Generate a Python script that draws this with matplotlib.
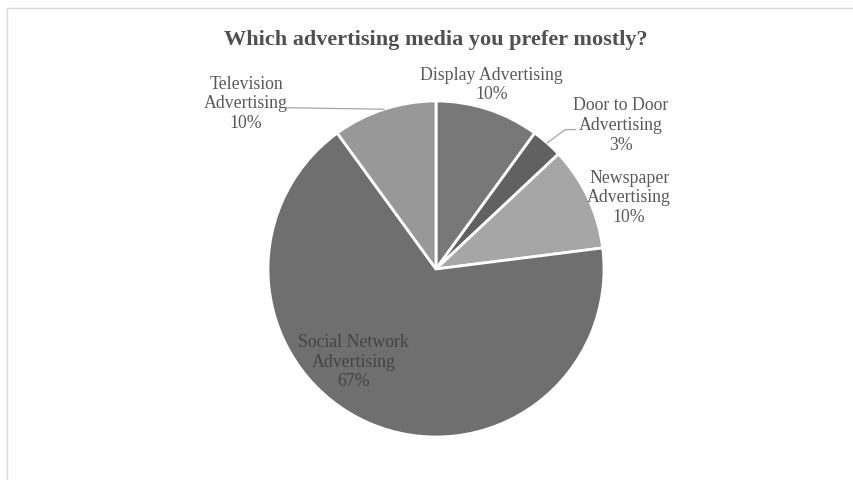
import math
import matplotlib
matplotlib.use("Agg")
from matplotlib import pyplot as plt
from matplotlib.patches import Rectangle

# survey answers (share of respondents, %)
media = ['Display Advertising', 'Door to Door\nAdvertising', 'Newspaper\nAdvertising',
         'Social Network\nAdvertising', 'Television\nAdvertising']
share = [10, 3, 10, 67, 10]
shades = ['#787878', '#616161', '#a6a6a6', '#6f6f6f', '#989898']

# where each label block sits, in pie-radius units
label_xy = [(0.33, 1.10), (1.10, 0.86), (1.15, 0.43), (-0.49, -0.55), (-1.13, 0.99)]
# leader line path from the label side (elbow points), None = no line
leader_from = [None, [(0.83, 0.83), (0.77, 0.83)], None, None, [(-0.89, 0.96)]]

W, H = 854, 481
fig = plt.figure(figsize=(W / 100, H / 100), dpi=100)
plt.rcParams['font.family'] = ['Liberation Serif', 'DejaVu Serif']

# outer chart frame
fig.patches.append(Rectangle((7 / W, -0.1), 1.2, 1.1 - 9 / H, transform=fig.transFigure,
                             fill=False, edgecolor='#d9d9d9', linewidth=1.0))

cx, cy, r = 436, 270, 168
ax = fig.add_axes([(cx - r) / W, (H - cy - r) / H, 2 * r / W, 2 * r / H])
wedges, _ = ax.pie(share, colors=shades, startangle=90, counterclock=False, radius=1,
                   wedgeprops=dict(edgecolor='white', linewidth=2))
ax.set_xlim(-1, 1)
ax.set_ylim(-1, 1)
ax.set_aspect('equal')
ax.axis('off')

total = sum(share)
start = 0
for i, (name, v) in enumerate(zip(media, share)):
    mid = math.radians((start + v / 2) / total * 360)
    start += v
    x, y = label_xy[i]
    col = '#444444' if i == 3 else '#595959'
    ax.text(x, y, f'{name}\n{v}%', ha='center', va='center', fontsize=12.8,
            color=col, linespacing=1.2, clip_on=False)
    if leader_from[i] is not None:
        pts = leader_from[i] + [(math.sin(mid), math.cos(mid))]
        ax.plot([p[0] for p in pts], [p[1] for p in pts], color='#a6a6a6',
                linewidth=0.9, clip_on=False)

fig.text(cx / W, 1 - 40 / H, 'Which advertising media you prefer mostly?', ha='center',
         va='center', fontsize=16, fontweight='bold', color='#505050')

fig.savefig('out.png', dpi=100)
